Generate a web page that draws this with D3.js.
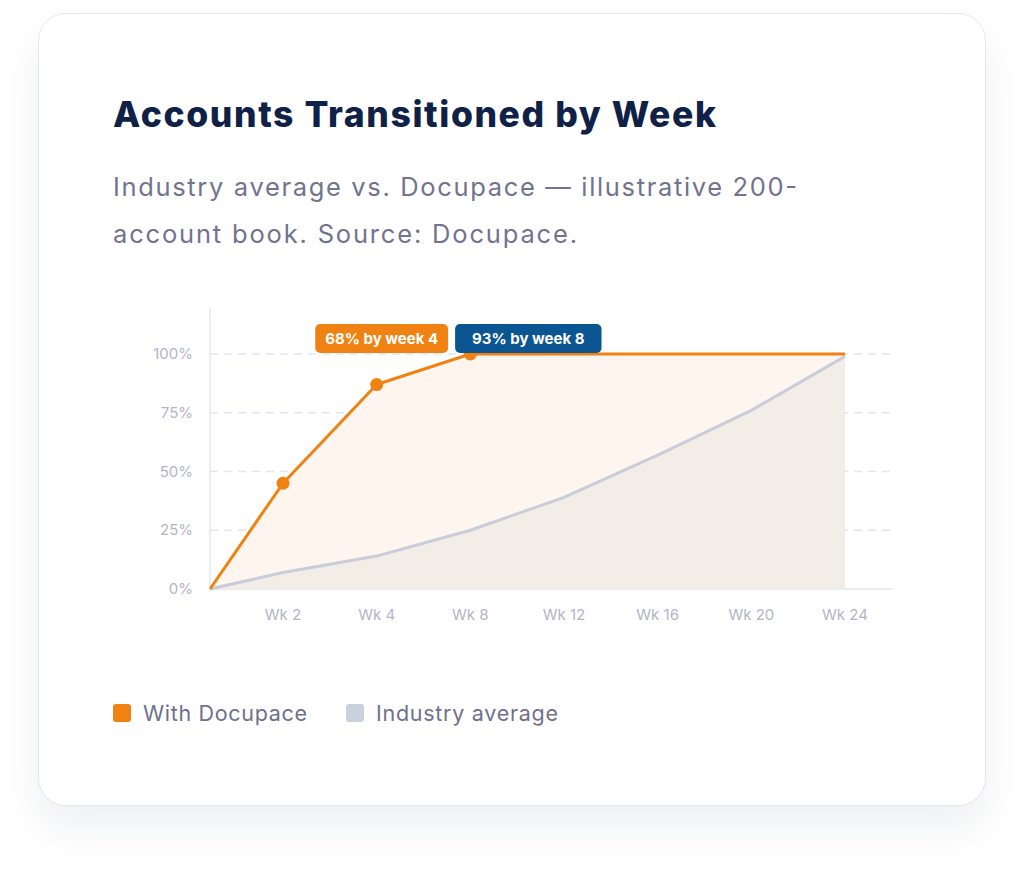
<!DOCTYPE html>
<html>
<head>
<meta charset="utf-8">
<title>Accounts Transitioned by Week</title>
<script src="https://d3js.org/d3.v7.min.js"></script>
<style>
    body {
        margin: 0;
        padding: 0;
        background: #fff;
        width: 1024px;
        height: 869px;
        position: relative;
        overflow: hidden;
        font-family: Inter, "Noto Sans", sans-serif;
    }
    .card {
        position: absolute;
        left: 38px;
        top: 13px;
        width: 946px;
        height: 791px;
        border: 1.5px solid #e4e6ee;
        border-radius: 28px;
        background: #fff;
        box-shadow: 0 22px 40px rgba(30, 40, 70, 0.07);
    }
    svg {
        position: absolute;
        left: 0;
        top: 0;
    }
    .title { font-size: 35.5px; font-weight: 800; fill: #0f2147; }
    .subtitle { font-size: 25.5px; fill: #72738f; }
    .tick-label { font-size: 15px; fill: #b1b5c7; }
    .badge-text { font-size: 15px; font-weight: 700; fill: #fff; }
    .legend-text { font-size: 21.5px; fill: #6f708c; }
</style>
</head>
<body>
<div class="card"></div>
<svg width="1024" height="869"></svg>
<script>
    // data
    var weeks = ['Wk 2', 'Wk 4', 'Wk 8', 'Wk 12', 'Wk 16', 'Wk 20', 'Wk 24'];
    var docupace = [45, 87, 100, 100, 100, 100, 100];
    var industry = [7, 14, 25, 39, 57, 76, 99];
    var yTicks = [0, 25, 50, 75, 100];
    var markedWeeks = ['Wk 2', 'Wk 4', 'Wk 8'];
    var badges = [
        { text: '68% by week 4', week: 'Wk 4', color: '#f08214' },
        { text: '93% by week 8', week: 'Wk 8', color: '#0b5592' }
    ];
    var legendItems = [
        { name: 'With Docupace', color: '#f08214' },
        { name: 'Industry average', color: '#c9d1df' }
    ];

    var svg = d3.select('svg');
    var plotLeft = 210, plotRight = 893, plotTop = 307, plotBottom = 589;

    var x = d3.scalePoint().domain(weeks).range([283, 845]);
    var y = d3.scaleLinear().domain([0, 120]).range([plotBottom, plotTop]);

    // origin point sits on the y axis
    function series(vals) {
        var pts = [{ x: plotLeft, v: 0 }];
        weeks.forEach(function(w, i) { pts.push({ x: x(w), v: vals[i] }); });
        return pts;
    }
    var docPts = series(docupace);
    var indPts = series(industry);

    // titles
    svg.append('text').attr('class', 'title').attr('x', 113).attr('y', 127)
        .attr('textLength', 603).attr('lengthAdjust', 'spacing')
        .text('Accounts Transitioned by Week');
    svg.append('text').attr('class', 'subtitle').attr('x', 113).attr('y', 196)
        .attr('textLength', 684).attr('lengthAdjust', 'spacing')
        .text('Industry average vs. Docupace \u2014 illustrative 200-');
    svg.append('text').attr('class', 'subtitle').attr('x', 113).attr('y', 243)
        .attr('textLength', 464).attr('lengthAdjust', 'spacing')
        .text('account book. Source: Docupace.');

    // grid
    svg.append('line').attr('x1', plotLeft).attr('x2', plotLeft).attr('y1', plotTop).attr('y2', plotBottom)
        .attr('stroke', '#e6e9f0').attr('stroke-width', 1.5);
    svg.selectAll('.grid').data(yTicks).enter().append('line')
        .attr('x1', plotLeft).attr('x2', plotRight)
        .attr('y1', function(d) { return y(d); }).attr('y2', function(d) { return y(d); })
        .attr('stroke', '#e3e6ef').attr('stroke-width', 1.5)
        .attr('stroke-dasharray', function(d) { return d === 0 ? null : '8,6'; });

    var area = d3.area().x(function(d) { return d.x; })
        .y0(y(0)).y1(function(d) { return y(d.v); });
    var line = d3.line().x(function(d) { return d.x; }).y(function(d) { return y(d.v); });

    svg.append('path').attr('d', area(docPts)).attr('fill', '#fdf5ee');
    svg.append('path').attr('d', area(indPts)).attr('fill', '#f2ede6');
    svg.append('path').attr('d', line(indPts)).attr('fill', 'none')
        .attr('stroke', '#c9cdd9').attr('stroke-width', 3).attr('stroke-linejoin', 'round');
    svg.append('path').attr('d', line(docPts)).attr('fill', 'none')
        .attr('stroke', '#f08214').attr('stroke-width', 3).attr('stroke-linejoin', 'round');

    svg.selectAll('.dot').data(markedWeeks).enter().append('circle')
        .attr('cx', function(d) { return x(d); })
        .attr('cy', function(d) { return y(docupace[weeks.indexOf(d)]); })
        .attr('r', 6.5).attr('fill', '#f08214');

    // axis labels
    svg.selectAll('.ylab').data(yTicks).enter().append('text')
        .attr('class', 'tick-label').attr('x', 193).attr('y', function(d) { return y(d) + 5; })
        .attr('text-anchor', 'end').text(function(d) { return d + '%'; });
    svg.selectAll('.xlab').data(weeks).enter().append('text')
        .attr('class', 'tick-label').attr('x', function(d) { return x(d); }).attr('y', 620)
        .attr('text-anchor', 'middle').text(function(d) { return d; });

    // badges
    var bx = null;
    badges.forEach(function(b, i) {
        var g = svg.append('g');
        var t = g.append('text').attr('class', 'badge-text').attr('y', 344).text(b.text);
        var w = t.node().getComputedTextLength() + (i === 0 ? 20 : 34);
        var x0 = i === 0 ? x(b.week) + 5 - w / 2 : bx + 7;
        g.insert('rect', 'text').attr('x', x0).attr('y', 324).attr('width', w).attr('height', 29)
            .attr('rx', 5).attr('fill', b.color);
        t.attr('x', x0 + w / 2).attr('text-anchor', 'middle');
        bx = x0 + w;
    });

    // legend
    var legendWidths = [164, 182];
    var lx = 113;
    legendItems.forEach(function(d, i) {
        svg.append('rect').attr('x', lx).attr('y', 704).attr('width', 18).attr('height', 18)
            .attr('rx', 3).attr('fill', d.color);
        svg.append('text').attr('class', 'legend-text').attr('x', lx + 30).attr('y', 721)
            .attr('textLength', legendWidths[i]).attr('lengthAdjust', 'spacing').text(d.name);
        lx += 30 + legendWidths[i] + 39;
    });
</script>
</body>
</html>
